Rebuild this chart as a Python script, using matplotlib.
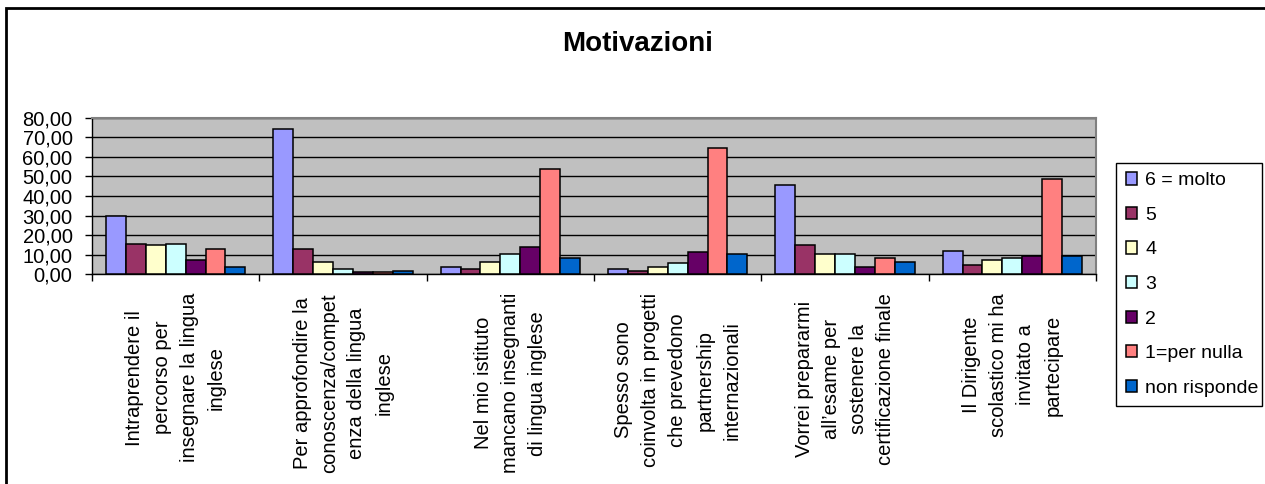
import numpy as np
import matplotlib
matplotlib.use('Agg')
import matplotlib.pyplot as plt
import matplotlib.transforms as mtransforms
from matplotlib.patches import Rectangle
from matplotlib.ticker import FuncFormatter

plt.rcParams['font.family'] = ['Liberation Sans', 'DejaVu Sans']

categories = [
    'Intraprendere il\npercorso per\ninsegnare la lingua\ninglese',
    'Per approfondire la\nconoscenza/compet\nenza della lingua\ninglese',
    'Nel mio istituto\nmancano insegnanti\ndi lingua inglese',
    'Spesso sono\ncoinvolta in progetti\nche prevedono\npartnership\ninternazionali',
    'Vorrei prepararmi\nall\u2019esame per\nsostenere la\ncertificazione finale',
    'Il Dirigente\nscolastico mi ha\ninvitato a\npartecipare',
]
series_names = ['6 = molto', '5', '4', '3', '2', '1=per nulla', 'non risponde']
molto6 = [29.8, 74.4, 3.6, 2.7, 45.7, 12.1]
val5 = [15.7, 12.9, 2.6, 1.7, 15.2, 4.6]
val4 = [14.8, 6.5, 6.5, 3.6, 10.2, 7.5]
val3 = [15.7, 2.7, 10.2, 5.8, 10.2, 8.3]
val2 = [7.3, 1.0, 14.0, 11.2, 3.6, 9.2]
per_nulla1 = [12.9, 1.0, 54.0, 64.4, 8.3, 48.7]
non_risponde = [3.7, 1.9, 8.3, 10.2, 6.5, 9.2]
series = [molto6, val5, val4, val3, val2, per_nulla1, non_risponde]
colors = ['#9999FF', '#993366', '#FFFFCC', '#CCFFFF', '#660066', '#FF8080', '#0066CC']

W, H = 1265, 484
fig = plt.figure(figsize=(W / 100, H / 100), dpi=100)
ax = fig.add_axes([92 / W, 1 - 274.3 / H, (1096 - 92) / W, (274.3 - 117.7) / H])
ax.set_facecolor('#C0C0C0')

x = np.arange(len(categories))
bw = 0.119
for k, (vals, name, col) in enumerate(zip(series, series_names, colors)):
    ax.bar(x + (k - 3) * bw, vals, width=bw, color=col, edgecolor='black',
           linewidth=1.1, label=name, zorder=3)

ax.set_xlim(-0.5, len(categories) - 0.5)
ax.set_ylim(0, 80)
ax.set_yticks(np.arange(0, 81, 10))
ax.yaxis.set_major_formatter(FuncFormatter(lambda v, p: f'{v:.2f}'.replace('.', ',')))
ax.grid(axis='y', color='black', linewidth=1.0, zorder=1)
ax.set_axisbelow(True)

ax.set_xticks(np.arange(-0.5, len(categories), 1.0))
ax.set_xticklabels([])
ax.tick_params(axis='x', direction='out', length=5, width=1, color='black')
ax.tick_params(axis='y', direction='out', length=5, width=1, color='black',
               labelsize=14.5, pad=9)

for side in ['top', 'right']:
    ax.spines[side].set_color('#808080')
    ax.spines[side].set_linewidth(1.5)
for side in ['left', 'bottom']:
    ax.spines[side].set_color('black')
    ax.spines[side].set_linewidth(1.0)

# category labels, rotated
lab_tr = mtransforms.blended_transform_factory(ax.transData, fig.transFigure)
for i, lab in enumerate(categories):
    ax.text(i, 1 - 293 / H, lab, transform=lab_tr,
            rotation=90, ha='center', va='top', multialignment='center',
            fontsize=14.5, linespacing=1.55)

fig.text(638 / W, 1 - 44 / H, 'Motivazioni', ha='center', va='center',
         fontsize=20, fontweight='bold')

leg = ax.legend(loc='center', bbox_to_anchor=(1116 / W, 1 - 406 / H, (1262 - 1116) / W, (406 - 163) / H),
                bbox_transform=fig.transFigure, mode='expand', fontsize=14,
                frameon=True, fancybox=False, edgecolor='black', framealpha=1,
                handlelength=0.6, handleheight=0.6, handletextpad=0.4,
                labelspacing=0.9, borderpad=0.5, borderaxespad=0)
leg.get_frame().set_linewidth(1.0)

fig.patches.append(Rectangle((6 / W, -0.05), 1.05, 1 - 8 / H + 0.05,
                             transform=fig.transFigure, fill=False,
                             edgecolor='black', linewidth=2.0))

fig.savefig('out.png', dpi=100)
